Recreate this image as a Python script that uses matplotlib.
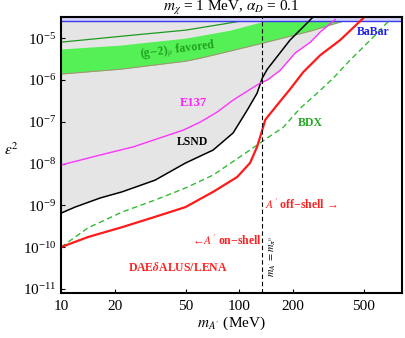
import matplotlib.pyplot as plt
import numpy as np

plt.rcParams['font.family'] = ['Liberation Serif', 'DejaVu Serif']
plt.rcParams['mathtext.fontset'] = 'stix'

# LSND (black), E137 (magenta) limits
lsnd_m = [10, 12, 16.6, 22, 33.7, 50, 71.4, 92.5, 111, 126, 134.7, 143.7, 193, 260]
lsnd_e = [6.5e-10, 9.1e-10, 1.5e-9, 2.1e-9, 4.0e-9, 1.03e-8, 2.1e-8, 5.4e-8,
          1.9e-7, 4.8e-7, 1.1e-6, 1.8e-6, 9.0e-6, 3.2e-5]
e137_m = [10, 16.6, 25.4, 48.5, 60.4, 75.2, 92.5, 131, 143.7, 170, 206, 251, 285, 346]
e137_e = [9.2e-9, 1.6e-8, 2.5e-8, 6.3e-8, 9.8e-8, 1.7e-7, 3.3e-7, 8.4e-7, 9.9e-7,
          1.7e-6, 4.4e-6, 8.0e-6, 1.4e-5, 2.8e-5]

# DAEdALUS/LENA sensitivity (red) and BDX (green dashed)
daed_m = [10, 14.2, 22, 33.7, 50, 71.4, 97.4, 115, 126, 134.7, 140, 145.6, 155, 170,
          193, 229, 285, 369, 497]
daed_e = [1.0e-10, 1.75e-10, 3.0e-10, 5.3e-10, 9.1e-10, 2.1e-9, 4.75e-9, 1.03e-8,
          2.5e-8, 6.3e-8, 1.1e-7, 1.37e-7, 1.9e-7, 3.1e-7, 6.0e-7, 1.54e-6, 3.9e-6,
          9.0e-6, 3.0e-5]
bdx_m = [10, 14.2, 22, 33.7, 50, 71.4, 111, 144, 177, 220, 278, 337, 420, 566, 705]
bdx_e = [1.0e-10, 2.9e-10, 6.9e-10, 1.34e-9, 2.6e-9, 5.3e-9, 1.9e-8, 4.1e-8, 7.4e-8,
         2.1e-7, 5.1e-7, 1.1e-6, 3.0e-6, 1.06e-5, 2.8e-5]

# (g-2)_mu favored band and upper line
gm2_m = [10, 21.5, 50, 60.4, 89, 136, 251, 384]
gm2_lo = [1.38e-6, 1.8e-6, 2.8e-6, 3.3e-6, 4.9e-6, 7.6e-6, 1.47e-5, 2.55e-5]
gm2_hi = [5.5e-6, 6.8e-6, 1.0e-5, 1.15e-5, 1.55e-5, 2.5e-5, 2.55e-5, 2.55e-5]
gm2_line_m = [10, 25.4, 50, 111]
gm2_line_e = [8.0e-6, 1.18e-5, 1.55e-5, 2.7e-5]

babar = 2.55e-5
m_pi0 = 135

fig = plt.figure(figsize=(4.06, 3.38), dpi=100)
ax = fig.add_axes([61/406, 1-293/338, 341/406, 276/338])
ax.set_xscale('log')
ax.set_yscale('log')

# excluded region
ax.fill_between(lsnd_m, lsnd_e, 1, color='#e5e5e5', lw=0, zorder=1)
ax.fill_between(e137_m, e137_e, 1, color='#e5e5e5', lw=0, zorder=1)

# g-2 band
ax.fill_between(gm2_m, gm2_lo, gm2_hi, color='#55f055', lw=0, zorder=2)
ax.plot(gm2_m, gm2_lo, color='#b08a80', lw=0.7, zorder=3)
ax.plot(gm2_line_m, gm2_line_e, color='#1e9a1e', lw=0.9, zorder=3)

# BaBar
ax.axhspan(babar, 1, color='#d2d2f5', lw=0, zorder=3)
ax.axhline(babar, color='#3a3aee', lw=1.0, zorder=4)

ax.plot(lsnd_m, lsnd_e, color='black', lw=1.1, zorder=5)
ax.plot(e137_m, e137_e, color='#ff33ff', lw=1.0, zorder=5)
ax.plot(bdx_m, bdx_e, color='#33bb33', lw=1.0, ls=(0, (4, 2.5)), zorder=5)
ax.plot(daed_m, daed_e, color='#ff1a1a', lw=1.6, zorder=6)
ax.axvline(m_pi0, color='black', lw=0.8, ls=(0, (4, 2.5)), zorder=6)

ax.set_xlim(10, 820)
ax.set_ylim(8e-12, 3.2e-5)
ax.set_xticks([10, 20, 50, 100, 200, 500])
ax.set_xticklabels(['10', '20', '50', '100', '200', '500'])
ax.set_yticks([1e-11, 1e-10, 1e-9, 1e-8, 1e-7, 1e-6, 1e-5])
ax.minorticks_off()
ax.tick_params(direction='in', labelsize=11, length=3, width=0.8)
ax.tick_params(axis='x', pad=5)
for s in ax.spines.values():
    s.set_linewidth(1.5)
    s.set_zorder(10)

ax.set_title(r'$m_\chi$ = 1 MeV, $\alpha_D$ = 0.1', fontsize=11, pad=2.5)
ax.set_xlabel(r"$m_{A'}$ (MeV)", fontsize=11, labelpad=1)
ax.set_ylabel(r'$\epsilon^2$', fontsize=11, rotation=0)
ax.yaxis.set_label_coords(-0.145, 0.49)

kw = dict(fontsize=8.5, fontweight='bold', ha='center', va='center', zorder=8)
ax.text(45.4, 5.2e-6, r'(g$-$2)$_\mu$ favored', color='#22a022', rotation=7, **kw)
ax.text(566, 1.4e-5, 'BaBar', color='#2020ee', **kw)
ax.text(55, 2.8e-7, 'E137', color='#ff22ff', **dict(kw, fontsize=9))
ax.text(54.5, 3.3e-8, 'LSND', color='black', **kw)
ax.text(250, 9.3e-8, 'BDX', color='#22aa22', **kw)
ax.text(222, 1.0e-9, "$A'$ off\u2212shell \u2192", color='#ff2020', **kw)
ax.text(85.6, 1.4e-10, "\u2190$A'$ on\u2212shell", color='#ff2020', **kw)
ax.text(45.1, 3.2e-11, r'DAE$\boldsymbol{\delta}$ALUS/LENA', color='#ff2020', **kw)
ax.text(155, 6.2e-11, r"$m_{A'} = m_{\pi^0}$", fontsize=7.5, rotation=90,
        ha='center', va='center', zorder=8)

fig.savefig('out.png', dpi=100)
